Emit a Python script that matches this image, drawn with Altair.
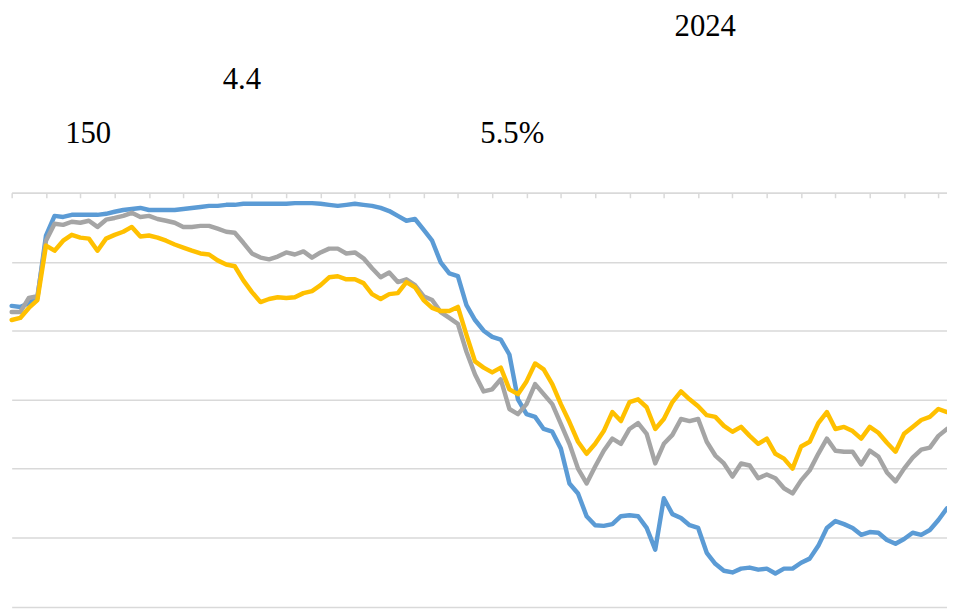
import altair as alt
import pandas as pd

# ---- data ----
months = [i * 0.25 for i in range(110)]
series_names = ["Series 1", "Series 2", "Series 3"]

series1 = [87.2, 86.9, 88.0, 89.5, 107.6, 113.3, 113.0, 113.6, 113.6, 113.6,
           113.6, 113.9, 114.5, 115.0, 115.3, 115.6, 115.0, 115.0, 115.0, 115.0,
           115.3, 115.6, 115.9, 116.2, 116.2, 116.5, 116.5, 116.8, 116.8, 116.8,
           116.8, 116.8, 116.8, 117.0, 117.0, 117.0, 116.8, 116.5, 116.2, 116.5,
           116.8, 116.5, 116.2, 115.6, 114.7, 113.3, 111.9, 112.4, 109.3, 106.1,
           99.8, 96.6, 95.8, 87.4, 83.1, 80.0, 78.2, 77.4, 73.1, 60.1,
           55.8, 55.0, 51.5, 50.7, 45.8, 35.7, 32.8, 26.2, 23.6, 23.4,
           23.9, 26.2, 26.5, 26.2, 22.8, 16.5, 31.4, 26.8, 25.7, 23.6,
           22.8, 15.6, 12.4, 10.4, 9.9, 11.0, 11.3, 10.7, 11.0, 9.6,
           11.0, 11.0, 12.7, 13.9, 17.6, 22.8, 24.8, 23.9, 22.8, 20.8,
           21.6, 21.4, 19.3, 18.2, 19.6, 21.4, 20.8, 22.2, 25.1, 28.5]

series2 = [85.4, 85.4, 89.5, 90.0, 106.1, 111.0, 110.7, 111.6, 111.3, 111.9,
           110.1, 112.2, 112.7, 113.3, 114.2, 113.0, 113.3, 112.4, 111.9, 111.3,
           110.1, 110.1, 110.4, 110.4, 109.6, 108.7, 108.4, 105.5, 102.4, 101.2,
           100.7, 101.5, 102.7, 102.1, 103.0, 101.2, 102.7, 103.8, 103.8, 102.4,
           102.7, 101.0, 98.1, 95.5, 96.9, 94.1, 94.9, 93.2, 90.0, 88.9,
           85.4, 83.7, 82.0, 73.9, 67.3, 62.4, 63.0, 65.9, 57.3, 55.8,
           58.7, 64.5, 61.6, 58.7, 53.0, 47.2, 40.0, 35.7, 40.6, 45.2,
           48.7, 47.2, 51.5, 53.2, 50.1, 41.5, 47.2, 49.8, 54.4, 53.8,
           54.4, 47.8, 43.8, 41.5, 37.7, 41.5, 40.9, 37.2, 38.3, 37.2,
           34.3, 32.8, 36.6, 39.5, 44.3, 48.7, 45.2, 44.9, 44.9, 41.2,
           45.2, 43.5, 38.9, 36.3, 40.0, 43.2, 45.5, 46.1, 49.5, 51.5]

series3 = [83.1, 83.7, 86.6, 88.9, 104.7, 103.2, 106.1, 107.8, 107.0, 106.7,
           103.2, 106.7, 107.8, 108.7, 110.1, 107.3, 107.6, 107.0, 106.1, 105.0,
           104.1, 103.2, 102.4, 102.1, 100.4, 99.2, 98.7, 94.6, 91.2, 88.3,
           89.2, 89.7, 89.5, 89.7, 90.9, 91.5, 93.2, 95.5, 95.8, 94.9,
           94.9, 93.8, 90.6, 89.2, 90.6, 90.9, 94.1, 92.6, 88.9, 86.6,
           85.7, 85.7, 86.9, 78.8, 71.1, 69.3, 67.9, 69.3, 63.0, 61.6,
           65.3, 70.5, 68.8, 64.5, 58.7, 53.5, 47.8, 44.3, 47.2, 50.9,
           56.4, 53.8, 59.3, 60.1, 57.8, 51.5, 54.4, 59.3, 62.4, 60.1,
           58.1, 55.5, 55.0, 52.4, 50.7, 52.1, 49.5, 47.2, 48.7, 44.3,
           42.9, 40.0, 46.4, 47.8, 53.2, 56.4, 51.5, 52.1, 50.9, 48.7,
           52.1, 50.4, 47.5, 44.9, 50.1, 52.1, 54.1, 55.0, 57.3, 56.4]

labels = ["2024", "4.4", "150", "5.5%"]
tick_months = list(range(28))
grid_values = [0, 20, 40, 60, 80, 100, 120]

# ---- styling / layout ----
COLORS = ["#5B9BD5", "#A5A5A5", "#FFC000"]
GRID = "#D9D9D9"
W, H = 944, 417.6
LABEL_POS = [(669, -158), (213, -104.5), (54, -50), (473, -50)]

rows = []
for name, vals in zip(series_names, [series1, series2, series3]):
    for m, v in zip(months, vals):
        rows.append({"month": m, "series": name, "value": v})
df = pd.DataFrame(rows)

x_enc = alt.X(
    "month:Q",
    scale=alt.Scale(domain=[0, 27.25], nice=False, zero=False),
    axis=alt.Axis(orient="bottom", offset=-H, values=tick_months, labels=False,
                  title=None, grid=False, ticks=True, tickSize=5, tickColor=GRID,
                  tickWidth=1.5, domain=True, domainColor=GRID, domainWidth=1.5),
)
y_enc = alt.Y(
    "value:Q",
    scale=alt.Scale(domain=[0, 120], nice=False, zero=False),
    axis=alt.Axis(values=grid_values, labels=False, ticks=False, domain=False,
                  title=None, grid=True, gridColor=GRID, gridWidth=1.5),
)

layers = []
for name, col in zip(series_names, COLORS):
    layers.append(
        alt.Chart(df)
        .transform_filter(alt.datum.series == name)
        .mark_line(color=col, strokeWidth=4.5, strokeJoin="round", strokeCap="round")
        .encode(x=x_enc, y=y_enc, order="month:Q")
    )

for text, (px, py) in zip(labels, LABEL_POS):
    layers.append(
        alt.Chart(pd.DataFrame({"label": [text]}))
        .mark_text(font="Liberation Serif", fontSize=31, align="left",
                   baseline="alphabetic", color="#000000")
        .encode(text="label:N", x=alt.value(px), y=alt.value(py))
    )

chart = (
    alt.layer(*layers)
    .properties(width=W, height=H,
                padding={"left": 3.7, "top": 183.7, "right": 0, "bottom": 3},
                autosize=alt.AutoSizeParams(type="none"),
                background="white")
    .configure_view(strokeWidth=0)
)

chart.save("out.html", embed_options={"renderer": "svg", "actions": False})
